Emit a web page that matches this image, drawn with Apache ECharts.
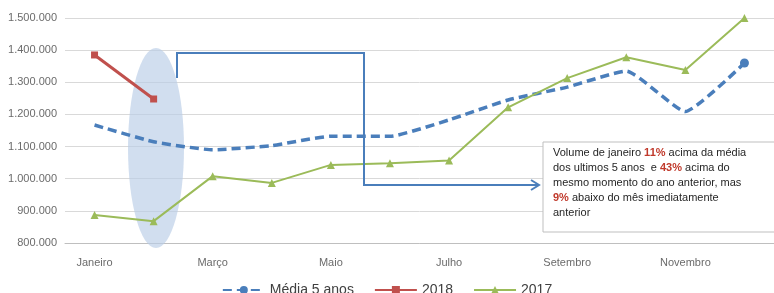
<!DOCTYPE html>
<html><head><meta charset="utf-8">
<script src="https://cdn.jsdelivr.net/npm/echarts@6/dist/echarts.min.js"></script>
<style>html,body{margin:0;padding:0;background:#fff}#c{width:774px;height:293px}</style>
</head><body><div id="c"></div>
<script>
var months = ['Janeiro','Fevereiro','Março','Abril','Maio','Junho','Julho','Agosto','Setembro','Outubro','Novembro','Dezembro'];
var media5 = [1167000,1115000,1090000,1103000,1132000,1132000,1183000,1245000,1285000,1335000,1209000,1360000];
var v2018 = [1385000,1248000];
var v2017 = [887000,868000,1008000,987000,1043000,1048000,1057000,1222000,1313000,1378000,1338000,1500000];
var yTicks = {min:800000, max:1500000, interval:100000};

function fmt(v){ return String(v).replace(/\B(?=(\d{3})+(?!\d))/g,'.'); }

var mediaData = media5.map(function(v,i){
  return i === media5.length-1 ? {value:v, symbol:'circle', symbolSize:9} : {value:v, symbol:'none'};
});

var chart = echarts.init(document.getElementById('c'));
var font = 'Liberation Sans, Arial, sans-serif';
chart.setOption({
  animation:false,
  textStyle:{fontFamily:font},
  grid:{left:65, right:-5, top:18, bottom:50},
  xAxis:{type:'category', data:months, boundaryGap:true,
    axisLine:{lineStyle:{color:'#bfbfbf'}}, axisTick:{show:false},
    axisLabel:{interval:1, color:'#6b6b6b', fontSize:11, margin:14}},
  yAxis:{type:'value', min:yTicks.min, max:yTicks.max, interval:yTicks.interval,
    axisLine:{show:false}, axisTick:{show:false},
    splitLine:{lineStyle:{color:'#d9d9d9'}},
    axisLabel:{color:'#6b6b6b', fontSize:11, margin:8, formatter:fmt}},
  legend:{top:278, left:'center', itemWidth:42, itemHeight:10, itemGap:20,
    textStyle:{color:'#404040', fontSize:14},
    data:['Média 5 anos','2018','2017']},
  series:[
    {name:'Média 5 anos', type:'line', data:mediaData, smooth:0.15, symbol:'circle', symbolSize:9,
      itemStyle:{color:'#4a7ebb'}, lineStyle:{color:'#4a7ebb', width:3.5, type:[9,5]}, z:3},
    {name:'2018', type:'line', data:v2018, symbol:'rect', symbolSize:7,
      itemStyle:{color:'#c0504d'}, lineStyle:{color:'#c0504d', width:3}, z:4},
    {name:'2017', type:'line', data:v2017, symbol:'triangle', symbolSize:8,
      itemStyle:{color:'#9bbb59'}, lineStyle:{color:'#9bbb59', width:2}, z:3}
  ],
  graphic:[
    {type:'ellipse', shape:{cx:156, cy:148, rx:28, ry:100}, style:{fill:'rgba(185,205,230,0.65)'}, z:1},
    {type:'polyline', shape:{points:[[177,78],[177,53],[364,53],[364,185],[538,185]]},
      style:{stroke:'#4a7ebb', lineWidth:2, fill:null}, z:5},
    {type:'polyline', shape:{points:[[531,180],[539,185],[531,190]]},
      style:{stroke:'#4a7ebb', lineWidth:2, fill:null}, z:5},
    {type:'rect', shape:{x:543, y:142, width:240, height:90},
      style:{fill:'#fff', stroke:'#bfbfbf', lineWidth:1}, z:6},
    {type:'text', left:553, top:145, z:7,
      style:{
        text:'Volume de janeiro {r|11%} acima da média\ndos ultimos 5 anos  e {r|43%} acima do\nmesmo momento do ano anterior, mas\n{r|9%} abaixo do mês imediatamente\nanterior',
        fontSize:11, fontFamily:font, fill:'#262626', lineHeight:15,
        rich:{r:{fill:'#c0392b', fontSize:11, fontWeight:'bold', lineHeight:15}}
      }}
  ]
});
</script></body></html>
